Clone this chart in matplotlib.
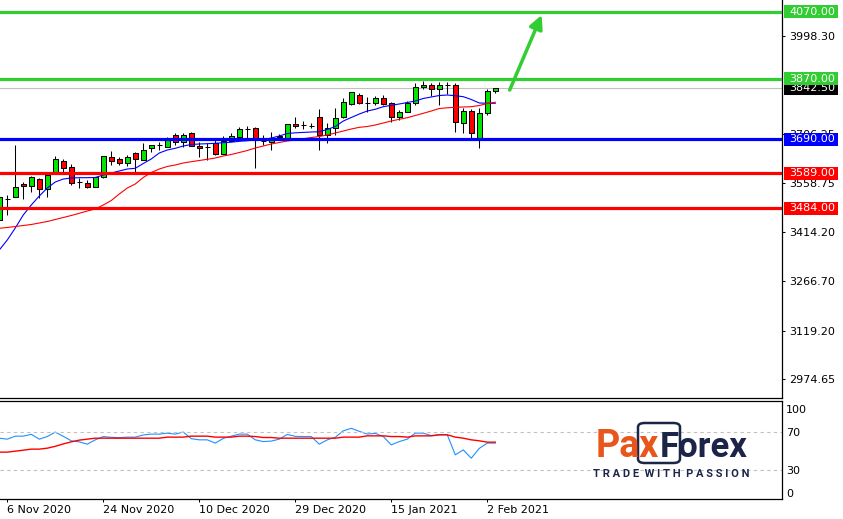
import numpy as np
import matplotlib.pyplot as plt
from matplotlib.patches import Rectangle, FancyBboxPatch

# свечи (дневки), значения
opens = [3449, 3511, 3519, 3557, 3552, 3572, 3541, 3589, 3626, 3606,
         3564, 3559, 3549, 3577, 3636, 3630, 3620, 3650, 3628, 3663,
         3673, 3666, 3702, 3681, 3708, 3670, 3666, 3678, 3646, 3686,
         3698, 3720, 3723, 3685, 3682, 3698, 3693, 3736, 3733, 3731,
         3756, 3703, 3723, 3756, 3795, 3822, 3799, 3797, 3812, 3797,
         3756, 3772, 3797, 3845, 3852, 3839, 3852, 3852, 3738, 3775,
         3693, 3768, 3835]
highs = [3521, 3524, 3673, 3563, 3581, 3575, 3586, 3640, 3630, 3616,
         3574, 3569, 3578, 3640, 3656, 3638, 3643, 3652, 3678, 3673,
         3683, 3698, 3708, 3708, 3713, 3682, 3678, 3690, 3700, 3708,
         3728, 3730, 3726, 3703, 3713, 3706, 3736, 3756, 3746, 3740,
         3780, 3738, 3783, 3812, 3832, 3827, 3815, 3819, 3822, 3802,
         3778, 3804, 3857, 3864, 3857, 3862, 3862, 3857, 3784, 3780,
         3783, 3840, 3842.5]
lows = [3446, 3464, 3518, 3511, 3534, 3514, 3519, 3587, 3593, 3554,
        3544, 3544, 3548, 3576, 3613, 3613, 3610, 3593, 3628, 3653,
        3658, 3666, 3673, 3668, 3670, 3638, 3628, 3643, 3646, 3685,
        3697, 3693, 3604, 3673, 3658, 3694, 3693, 3723, 3720, 3723,
        3658, 3680, 3703, 3754, 3792, 3795, 3771, 3792, 3792, 3743,
        3748, 3772, 3792, 3839, 3819, 3792, 3825, 3713, 3710, 3693,
        3663, 3763, 3829]
closes = [3519, 3511, 3547, 3551, 3577, 3541, 3584, 3630, 3604, 3560,
          3564, 3547, 3577, 3640, 3626, 3618, 3636, 3632, 3658, 3673,
          3673, 3688, 3681, 3703, 3671, 3663, 3666, 3646, 3686, 3700,
          3721, 3720, 3688, 3685, 3694, 3701, 3736, 3730, 3733, 3731,
          3703, 3723, 3753, 3800, 3830, 3797, 3799, 3812, 3795, 3756,
          3772, 3797, 3845, 3852, 3839, 3852, 3852, 3741, 3775, 3708,
          3769, 3834, 3842.5]

# скользящие средние (синяя быстрая, красная медленная)
ma_fast = [3359.7, 3389.6, 3425.4, 3464.2, 3494.0, 3520.8, 3544.7, 3562.6, 3571.5, 3574.6,
           3575.5, 3575.5, 3576.1, 3583.5, 3589.5, 3595.5, 3601.4, 3603.5, 3617.8, 3631.3,
           3649.2, 3658.1, 3663.2, 3670.1, 3674.5, 3676.0, 3676.9, 3678.1, 3679.9, 3681.4,
           3684.1, 3685.8, 3687.9, 3689.4, 3693.9, 3699.9, 3707.3, 3709.4, 3710.6, 3711.8,
           3712.7, 3719.3, 3728.2, 3744.6, 3755.1, 3765.5, 3774.5, 3779.6, 3787.3, 3791.5,
           3795.4, 3799.8, 3804.3, 3811.8, 3816.3, 3820.7, 3822.2, 3820.1, 3817.2, 3808.8,
           3798.4, 3797.5, 3797.5]
ma_slow = [3424.5, 3426.9, 3429.8, 3432.8, 3435.8, 3440.3, 3444.8, 3450.7, 3456.7, 3462.7,
           3469.2, 3476.1, 3482.1, 3494.0, 3507.4, 3526.8, 3544.7, 3556.7, 3576.1, 3591.0,
           3601.4, 3608.9, 3613.4, 3619.3, 3623.2, 3626.8, 3630.4, 3634.2, 3640.2, 3644.7,
           3650.6, 3656.6, 3664.1, 3670.1, 3676.0, 3680.5, 3685.0, 3687.9, 3691.8, 3695.4,
           3698.4, 3702.9, 3708.8, 3714.8, 3720.8, 3725.8, 3728.2, 3732.7, 3738.7, 3744.7,
           3749.7, 3754.5, 3761.1, 3767.6, 3774.5, 3782.0, 3784.0, 3785.5, 3786.4, 3787.3,
           3790.9, 3796.9, 3800.5]

# осциллятор в нижнем окне
osc_main = [63.1, 62.1, 65.2, 65.2, 67.1, 62.1, 64.8, 69.4, 65.0, 60.4,
            59.3, 56.9, 61.4, 64.8, 64.0, 63.7, 64.2, 64.2, 66.4, 67.3,
            67.3, 68.3, 67.3, 69.4, 62.6, 61.4, 61.4, 58.0, 62.9, 65.2,
            67.3, 67.3, 61.4, 59.6, 60.1, 62.1, 67.0, 65.0, 64.8, 64.8,
            56.9, 61.4, 64.0, 70.7, 73.3, 70.2, 67.3, 68.1, 64.8, 56.2,
            59.6, 62.1, 68.3, 68.3, 65.8, 66.6, 66.6, 45.9, 51.0, 42.4,
            52.6, 58.0, 58.0]
osc_signal = [48.7, 48.7, 49.7, 50.7, 51.8, 51.8, 52.8, 54.7, 57.2, 59.3,
              61.1, 62.1, 63.1, 63.1, 63.1, 63.1, 63.1, 63.1, 63.1, 63.1,
              63.1, 64.2, 64.2, 64.2, 65.2, 65.2, 65.2, 64.2, 64.2, 64.2,
              65.2, 65.2, 64.8, 63.8, 63.8, 63.1, 63.1, 63.1, 63.1, 63.1,
              63.1, 63.1, 63.1, 64.2, 64.2, 64.2, 65.5, 65.5, 65.5, 64.8,
              64.8, 64.2, 65.5, 65.5, 65.5, 66.6, 66.6, 64.2, 63.1, 61.4,
              60.4, 59.0, 59.0]

date_ticks = [1, 13, 25, 37, 49, 61]
date_labels = ['6 Nov 2020', '24 Nov 2020', '10 Dec 2020', '29 Dec 2020', '15 Jan 2021', '2 Feb 2021']
price_ticks = [2974.65, 3119.20, 3266.70, 3414.20, 3558.75, 3706.25, 3998.30]
osc_tick_pos = [93, 70, 30, 7]
osc_tick_labels = ['100', '70', '30', '0']

levels = [4070, 3870, 3690, 3589, 3484]
level_colors = ['#32cd32', '#32cd32', '#0000ff', '#ff0000', '#ff0000']
last_price = 3842.50
target_from = (63.8, 3837)
target_to = (67.8, 4061)

W, H = 843, 519
fig = plt.figure(figsize=(W / 100, H / 100), dpi=100)
ax = fig.add_axes([0, 1 - 398 / H, 782 / W, 398 / H])
ax2 = fig.add_axes([0, 1 - 499.3 / H, 782 / W, 98.3 / H], sharex=ax)

x = np.arange(len(opens))
o = np.array(opens)
c = np.array(closes)

# свечи
ax.vlines(x, lows, highs, color='black', lw=0.75, zorder=3)
body_colors = ['#00e600' if cc > oo else '#ff0000' for oo, cc in zip(o, c)]
ax.bar(x, np.abs(c - o), bottom=np.minimum(o, c), width=0.62, color=body_colors,
       edgecolor='black', linewidth=0.75, zorder=4)

ax.plot(x, ma_fast, color='#0000ff', lw=0.8, zorder=4.5)
ax.plot(x, ma_slow, color='#ff0000', lw=0.8, zorder=4.5)

# уровни
ax.axhline(last_price, color='#c0c0c0', lw=0.8, zorder=1)
for lv, col in zip(levels, level_colors):
    ax.axhline(lv, color=col, lw=2.3, zorder=5)

ax.annotate('', xy=target_to, xytext=target_from,
            arrowprops=dict(arrowstyle='-|>', color='#32cd32', lw=2.5,
                            mutation_scale=20, shrinkA=0, shrinkB=0), zorder=6)

ax.set_xlim(0.09, 97.84)
ax.set_ylim(2918.1, 4105.7)

# правая шкала
ax.yaxis.tick_right()
ax.set_yticks(price_ticks, [f'{p:.2f}' for p in price_ticks])
ax.tick_params(axis='y', length=2.2, width=0.75, pad=3, labelsize=8, colors='black')
ax.tick_params(axis='x', bottom=False, labelbottom=False)
for s in ['left', 'top']:
    ax.spines[s].set_visible(False)
for s in ['right', 'bottom']:
    ax.spines[s].set_linewidth(0.9)

# подписи уровней справа
ytr = ax.get_yaxis_transform()
half = 6.5 * (4105.7 - 2918.1) / 398
tags = [(last_price, 'black', 6)] + [(lv, col, 7) for lv, col in zip(levels, level_colors)]
for val, col, z in tags:
    ax.add_patch(Rectangle((1.0025, val - half), 0.069, 2 * half, transform=ytr,
                           facecolor=col, edgecolor='none', clip_on=False, zorder=z))
    ax.text(1.009, val, f'{val:.2f}', transform=ytr, color='white', fontsize=8,
            va='center', ha='left', clip_on=False, zorder=z + 0.5)

# нижнее окно
ax2.plot(x, osc_main, color='#1e90ff', lw=0.8)
ax2.plot(x, osc_signal, color='#ff0000', lw=1.0)
for lv in [70, 30]:
    ax2.axhline(lv, color='#c0c0c0', lw=0.8, ls=(0, (3, 3)))
ax2.set_ylim(0, 101.5)
ax2.yaxis.tick_right()
ax2.set_yticks(osc_tick_pos, osc_tick_labels)
ax2.tick_params(axis='y', length=0, pad=3, labelsize=8)
ax2.set_xticks(date_ticks, date_labels)
ax2.tick_params(axis='x', length=2.2, width=0.75, pad=2, labelsize=8)
for lbl in ax2.get_xticklabels():
    lbl.set_horizontalalignment('left')
ax2.spines['left'].set_visible(False)
for s in ['right', 'bottom', 'top']:
    ax2.spines[s].set_linewidth(0.9)

# логотип
navy = '#1b2548'
orange = '#e8561c'
fig.text(659 / W, 1 - 456.7 / H, 'Pax', color=orange, fontsize=27, fontweight='bold',
         family='Roboto', va='baseline', ha='right')
fig.text(660 / W, 1 - 456.7 / H, 'Forex', color=navy, fontsize=25, fontweight='bold',
         family='Roboto', va='baseline', ha='left')
fig.add_artist(FancyBboxPatch((638 / W, 1 - 463 / H), 42 / W, 40 / H,
                              boxstyle='round,pad=0,rounding_size=0.008',
                              transform=fig.transFigure, fill=False,
                              edgecolor=navy, lw=1.8))
fig.text(593 / W, 1 - 474 / H, 'T R A D E  W I T H  P A S S I O N', color=navy,
         fontsize=8, fontweight='bold', family='Roboto', va='center', ha='left')

fig.savefig('out.png', dpi=100)
